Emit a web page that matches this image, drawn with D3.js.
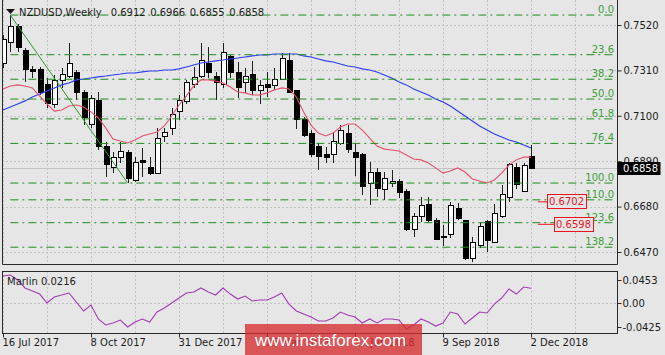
<!DOCTYPE html>
<html>
<head>
<meta charset="utf-8">
<script src="https://cdn.jsdelivr.net/npm/d3@7"></script>
<style>
  html, body { margin: 0; padding: 0; background: #e6e6e6; }
  svg { display: block; }
</style>
</head>
<body>
<div id="chart"></div>
<script>
// NZDUSD weekly, 16 Jul 2017 .. 2 Dec 2018
const opens  = [0.7344,0.7441,0.7515,0.7404,0.7312,0.7312,0.7243,0.7150,0.7261,0.7284,
                0.7298,0.7210,0.7062,0.7173,0.6956,0.6863,0.6905,0.6928,0.6803,0.6891,
                0.6863,0.6835,0.7002,0.7039,0.7118,0.7164,0.7243,0.7284,0.7344,0.7284,
                0.7247,0.7372,0.7298,0.7252,0.7293,0.7215,0.7243,0.7238,0.7270,0.7354,
                0.7215,0.7081,0.7020,0.6960,0.6919,0.6919,0.6974,0.7020,0.6928,0.6919,
                0.6789,0.6840,0.6761,0.6789,0.6794,0.6748,0.6576,0.6636,0.6692,0.6618,
                0.6544,0.6553,0.6669,0.6618,0.6438,0.6498,0.6609,0.6516,0.6632,0.6724,
                0.6863,0.6752,0.6912];
const highs  = [0.7474,0.7566,0.7525,0.7414,0.7330,0.7326,0.7275,0.7289,0.7321,0.7437,
                0.7312,0.7219,0.7196,0.7210,0.6979,0.6933,0.6979,0.6942,0.6909,0.6951,
                0.6909,0.7044,0.7044,0.7136,0.7196,0.7266,0.7326,0.7437,0.7418,0.7303,
                0.7437,0.7381,0.7349,0.7321,0.7354,0.7266,0.7303,0.7321,0.7391,0.7391,
                0.7219,0.7094,0.7034,0.6974,0.6956,0.7025,0.7057,0.7057,0.6974,0.6928,
                0.6886,0.6859,0.6840,0.6849,0.6808,0.6761,0.6650,0.6724,0.6724,0.6627,
                0.6595,0.6701,0.6697,0.6620,0.6539,0.6609,0.6618,0.6692,0.6780,0.6882,
                0.6882,0.6882,0.6966];
const lows   = [0.7321,0.7395,0.7395,0.7256,0.7275,0.7196,0.7136,0.7136,0.7229,0.7275,
                0.7173,0.7057,0.7044,0.6942,0.6817,0.6835,0.6882,0.6789,0.6794,0.6817,
                0.6826,0.6831,0.6979,0.7011,0.7081,0.7155,0.7229,0.7275,0.7275,0.7173,
                0.7229,0.7275,0.7182,0.7206,0.7196,0.7155,0.7187,0.7219,0.7266,0.7206,
                0.7039,0.7002,0.6909,0.6849,0.6882,0.6882,0.6965,0.6928,0.6822,0.6734,
                0.6687,0.6724,0.6711,0.6771,0.6720,0.6568,0.6539,0.6609,0.6609,0.6525,
                0.6498,0.6535,0.6618,0.6433,0.6424,0.6489,0.6470,0.6512,0.6628,0.6701,
                0.6761,0.6748,0.6855];
const closes = [0.7451,0.7511,0.7414,0.7312,0.7307,0.7206,0.7155,0.7261,0.7293,0.7340,
                0.7210,0.7090,0.7182,0.6956,0.6877,0.6909,0.6937,0.6812,0.6882,0.6882,
                0.6835,0.6993,0.7025,0.7104,0.7169,0.7252,0.7275,0.7354,0.7298,0.7252,
                0.7391,0.7298,0.7233,0.7284,0.7215,0.7238,0.7233,0.7266,0.7363,0.7210,
                0.7081,0.7011,0.6919,0.6914,0.6909,0.6979,0.7034,0.6942,0.6909,0.6771,
                0.6840,0.6766,0.6808,0.6798,0.6743,0.6572,0.6632,0.6687,0.6618,0.6530,
                0.6535,0.6683,0.6623,0.6442,0.6512,0.6590,0.6521,0.6646,0.6738,0.6877,
                0.6780,0.6872,0.6858];

// moving averages
const maFast = [0.7224,0.7238,0.7243,0.7238,0.7229,0.7191,0.7155,0.7122,0.7127,0.7145,
                0.7150,0.7141,0.7118,0.7090,0.7044,0.6993,0.6983,0.6974,0.6988,0.7007,
                0.7016,0.7025,0.7053,0.7099,0.7150,0.7191,0.7238,0.7266,0.7266,0.7261,
                0.7252,0.7233,0.7210,0.7206,0.7196,0.7196,0.7206,0.7219,0.7229,0.7224,
                0.7187,0.7118,0.7057,0.7020,0.7007,0.7020,0.7048,0.7062,0.7062,0.7034,
                0.6997,0.6960,0.6946,0.6942,0.6937,0.6919,0.6900,0.6896,0.6882,0.6859,
                0.6835,0.6845,0.6859,0.6840,0.6808,0.6798,0.6789,0.6803,0.6835,0.6872,
                0.6896,0.6909,0.6909];
const maSlow = [0.7127,0.7141,0.7155,0.7169,0.7187,0.7201,0.7215,0.7229,0.7243,0.7252,
                0.7266,0.7270,0.7275,0.7280,0.7284,0.7289,0.7293,0.7298,0.7298,0.7303,
                0.7307,0.7307,0.7312,0.7312,0.7317,0.7326,0.7335,0.7344,0.7349,0.7354,
                0.7358,0.7363,0.7367,0.7372,0.7377,0.7381,0.7381,0.7386,0.7386,0.7386,
                0.7386,0.7377,0.7372,0.7363,0.7354,0.7349,0.7340,0.7330,0.7326,0.7317,
                0.7312,0.7303,0.7289,0.7275,0.7256,0.7243,0.7224,0.7210,0.7196,0.7178,
                0.7164,0.7145,0.7122,0.7099,0.7076,0.7053,0.7034,0.7016,0.7002,0.6988,
                0.6979,0.6965,0.6951];

// Marlin oscillator
const marlin = [0.0395,0.0409,0.0337,0.0221,0.0177,0.0133,0.0003,0.0090,0.0119,0.0148,
                0.0017,-0.0113,-0.0026,-0.0229,-0.0316,-0.0287,-0.0244,-0.0345,-0.0273,-0.0229,
                -0.0273,-0.0128,-0.0070,0.0003,0.0075,0.0148,0.0163,0.0221,0.0163,0.0119,
                0.0221,0.0133,0.0061,0.0104,0.0032,0.0046,0.0046,0.0090,0.0148,-0.0012,
                -0.0113,-0.0157,-0.0200,-0.0258,-0.0258,-0.0215,-0.0128,-0.0171,-0.0200,-0.0287,
                -0.0229,-0.0287,-0.0229,-0.0229,-0.0244,-0.0374,-0.0316,-0.0229,-0.0273,-0.0331,
                -0.0287,-0.0128,-0.0157,-0.0302,-0.0215,-0.0128,-0.0142,-0.0012,0.0075,0.0206,
                0.0133,0.0235,0.0216];

const priceTicks = [0.7520, 0.7310, 0.7100, 0.6890, 0.6680, 0.6470];
const marlinTicks = [0.0453, 0.00, -0.0425];
const fibLevels = [0.0, 23.6, 38.2, 50.0, 61.8, 76.4, 100.0, 110.0, 123.6, 138.2];
const fibHigh = 0.7566;
const fibLow = 0.6789;
const hLines = [0.6702, 0.6598];
const lastQuote = [0.6912, 0.6966, 0.6855, 0.6858];

const width = 665;
const height = 355;
const left = 2, right = 617;
const mainTop = 0, mainBottom = 264;
const subTop = 271, subBottom = 333;

const bg = '#e6e6e6';
const gridColor = '#c2c2c2';
const frameColor = '#2a2a2a';
const textColor = '#1c1c1c';
const fibColor = '#1f8c1f';
const fibText = '#3a9e3a';
const fastColor = '#e4506e';
const slowColor = '#2a3cf2';
const marlinColor = '#a23cb4';
const labelRed = '#e8141e';
const font = '"DejaVu Sans", Verdana, sans-serif';

const weeks = d3.timeWeek.range(new Date(2017, 6, 16), new Date(2018, 11, 3));

const xScale = d3.scaleTime()
    .domain([weeks[0], weeks[weeks.length - 1]])
    .range([3, 531]);

const yScale = d3.scaleLinear()
    .domain([0.6470, 0.7520])
    .range([252, 25]);

const mScale = d3.scaleLinear()
    .domain([-0.0425, 0.0453])
    .range([332.5, 272]);

const svg = d3.select('#chart')
  .append('svg')
    .attr('width', width)
    .attr('height', height)
    .style('font-family', font)
    .style('font-size', '10px');

svg.append('rect').attr('width', width).attr('height', height).attr('fill', bg);

svg.append('clipPath').attr('id', 'mainClip')
  .append('rect')
    .attr('x', left).attr('y', mainTop)
    .attr('width', right - left).attr('height', mainBottom - mainTop);

// vertical grid every 6 weeks
const gridDates = d3.range(0, 79, 6).map(k => d3.timeWeek.offset(weeks[0], k));
[[mainTop, mainBottom], [subTop, subBottom]].forEach(([y0, y1]) => {
  svg.append('g').selectAll('line').data(gridDates).join('line')
      .attr('x1', d => Math.round(xScale(d)) + 0.5)
      .attr('x2', d => Math.round(xScale(d)) + 0.5)
      .attr('y1', y0).attr('y2', y1)
      .attr('stroke', gridColor)
      .attr('stroke-dasharray', '2,2');
});

// horizontal grid on price ticks
svg.append('g').selectAll('line').data(priceTicks).join('line')
    .attr('x1', left).attr('x2', right)
    .attr('y1', d => Math.round(yScale(d)) + 0.5)
    .attr('y2', d => Math.round(yScale(d)) + 0.5)
    .attr('stroke', gridColor)
    .attr('stroke-dasharray', '2,2');

svg.append('line')
    .attr('x1', left).attr('x2', right)
    .attr('y1', Math.round(mScale(0)) + 0.5)
    .attr('y2', Math.round(mScale(0)) + 0.5)
    .attr('stroke', gridColor)
    .attr('stroke-dasharray', '2,2');

const main = svg.append('g').attr('clip-path', 'url(#mainClip)');

// bid line
main.append('line')
    .attr('x1', left).attr('x2', right)
    .attr('y1', Math.round(yScale(lastQuote[3])) + 0.5)
    .attr('y2', Math.round(yScale(lastQuote[3])) + 0.5)
    .attr('stroke', '#c4c4c4');

// candles
const bars = weeks.map((d, i) => ({date: d, o: opens[i], h: highs[i], l: lows[i], c: closes[i]}));

const candle = main.append('g').attr('shape-rendering', 'crispEdges')
  .selectAll('g').data(bars).join('g');

candle.append('line')
    .attr('x1', d => Math.round(xScale(d.date)) + 0.5)
    .attr('x2', d => Math.round(xScale(d.date)) + 0.5)
    .attr('y1', d => yScale(d.h))
    .attr('y2', d => yScale(d.l))
    .attr('stroke', '#202020');

candle.append('rect')
    .attr('x', d => Math.round(xScale(d.date)) - 2)
    .attr('width', 5)
    .attr('y', d => yScale(Math.max(d.o, d.c)))
    .attr('height', d => Math.max(1, Math.abs(yScale(d.o) - yScale(d.c))))
    .attr('fill', d => d.c >= d.o ? '#ffffff' : '#000000')
    .attr('stroke', '#000000');

// moving averages
const maLine = d3.line().x((d, i) => xScale(weeks[i])).y(d => yScale(d));

main.append('path').datum(maSlow)
    .attr('d', maLine)
    .attr('fill', 'none')
    .attr('stroke', slowColor)
    .attr('stroke-width', 1.1);

main.append('path').datum(maFast)
    .attr('d', maLine)
    .attr('fill', 'none')
    .attr('stroke', fastColor)
    .attr('stroke-width', 1.1);

// fibonacci retracement
const fibX0 = xScale(weeks[1]);
const fibs = fibLevels.map(l => ({level: l, price: fibHigh - l / 100 * (fibHigh - fibLow)}));

main.append('line')
    .attr('x1', xScale(weeks[1])).attr('y1', yScale(fibHigh))
    .attr('x2', xScale(weeks[17])).attr('y2', yScale(fibLow))
    .attr('stroke', '#2f9a2f');

main.append('g').selectAll('line').data(fibs).join('line')
    .attr('x1', fibX0).attr('x2', right - 3)
    .attr('y1', d => yScale(d.price))
    .attr('y2', d => yScale(d.price))
    .attr('stroke', fibColor)
    .attr('stroke-dasharray', '8,4,2,4');

main.append('g').selectAll('text').data(fibs).join('text')
    .attr('x', right - 3)
    .attr('y', d => yScale(d.price) - 2)
    .attr('text-anchor', 'end')
    .attr('fill', fibText)
    .text(d => d.level.toFixed(1));

// horizontal level labels
const labelRight = [586, 593];
hLines.forEach((p, k) => {
  const y = yScale(p);
  const g = main.append('g');
  const t = g.append('text')
      .attr('x', labelRight[k] - 2)
      .attr('y', y + 3.5)
      .attr('text-anchor', 'end')
      .attr('fill', labelRed)
      .text(p.toFixed(4));
  const w = t.node().getComputedTextLength();
  const bx = labelRight[k] - w - 4;
  g.insert('rect', 'text')
      .attr('x', bx + 0.5).attr('y', Math.round(y - 7.5) + 0.5)
      .attr('width', w + 4).attr('height', 14)
      .attr('fill', bg)
      .attr('stroke', labelRed);
  g.append('line')
      .attr('x1', xScale(weeks[72]) + 7).attr('x2', bx)
      .attr('y1', y).attr('y2', y)
      .attr('stroke', labelRed);
});

// marlin
svg.append('path').datum(marlin)
    .attr('d', d3.line().x((d, i) => xScale(weeks[i])).y(d => mScale(d)))
    .attr('fill', 'none')
    .attr('stroke', marlinColor)
    .attr('stroke-width', 1.1);

// frames
svg.append('path')
    .attr('d', `M${left + 0.5},${mainTop}V${mainBottom + 0.5}H${right + 0.5}V${mainTop}`)
    .attr('fill', 'none')
    .attr('stroke', frameColor);

svg.append('rect')
    .attr('x', left + 0.5).attr('y', subTop + 0.5)
    .attr('width', right - left).attr('height', subBottom - subTop)
    .attr('fill', 'none')
    .attr('stroke', frameColor);

// price axis
const yAxis = svg.append('g')
    .attr('transform', `translate(${right + 0.5},0)`)
    .call(d3.axisRight(yScale).tickValues(priceTicks).tickSize(4).tickFormat(d3.format('.4f')));
yAxis.select('.domain').remove();
yAxis.selectAll('.tick line').attr('stroke', frameColor);
yAxis.selectAll('.tick text')
    .attr('x', 6)
    .attr('fill', textColor)
    .style('font-family', font)
    .style('font-size', '10px');

// current price marker
const yLast = yScale(lastQuote[3]);
svg.append('rect')
    .attr('x', right + 0.5).attr('y', Math.round(yLast) - 6)
    .attr('width', 43).attr('height', 13)
    .attr('fill', '#000000');
svg.append('text')
    .attr('x', right + 6).attr('y', yLast + 4)
    .attr('fill', '#ffffff')
    .text(lastQuote[3].toFixed(4));

// marlin axis
const mLabelY = v => Math.min(Math.max(mScale(v), 280), 326.5);
const mAxis = svg.append('g').selectAll('g').data(marlinTicks).join('g')
    .attr('transform', d => `translate(${right + 0.5},${Math.round(mLabelY(d)) + 0.5})`);
mAxis.append('line').attr('x2', 4).attr('stroke', frameColor);
mAxis.append('text')
    .attr('x', 5).attr('dy', '0.35em')
    .attr('fill', textColor)
    .text(d => d === 0 ? '0.00' : d.toFixed(4));

// time axis
const tickDates = weeks.filter((d, i) => i % 12 === 0);
const xAxis = svg.append('g')
    .attr('transform', `translate(0,${subBottom + 0.5})`)
    .call(d3.axisBottom(xScale).tickValues(tickDates).tickSize(4).tickFormat(d3.timeFormat('%-d %b %Y')));
xAxis.select('.domain').remove();
xAxis.selectAll('.tick line').attr('stroke', frameColor);
xAxis.selectAll('.tick text')
    .attr('y', 5)
    .attr('x', -1)
    .attr('text-anchor', 'start')
    .attr('fill', textColor)
    .style('font-family', font)
    .style('font-size', '10px');

// title
svg.append('path').attr('d', 'M6,9L15,9L10.5,14Z').attr('fill', '#111111');
const title = svg.append('text').attr('x', 19).attr('y', 16).attr('fill', textColor);
title.append('tspan').text('NZDUSD,Weekly');
lastQuote.forEach((q, k) => {
  title.append('tspan').attr('dx', k === 0 ? 9 : 4.5).text(q.toFixed(4));
});

svg.append('text')
    .attr('x', 7).attr('y', 285)
    .attr('fill', textColor)
    .text('Marlin ' + marlin[marlin.length - 1].toFixed(4));

// watermark
svg.append('rect')
    .attr('x', 245).attr('y', 324)
    .attr('width', 177).attr('height', 40)
    .attr('fill', 'rgba(214, 44, 46, 0.78)');
svg.append('text')
    .attr('x', 255).attr('y', 346)
    .attr('fill', '#ffffff')
    .style('font-family', '"Liberation Sans", Arial, sans-serif')
    .style('font-size', '17px')
    .text('www.instaforex.com');
</script>
</body>
</html>
